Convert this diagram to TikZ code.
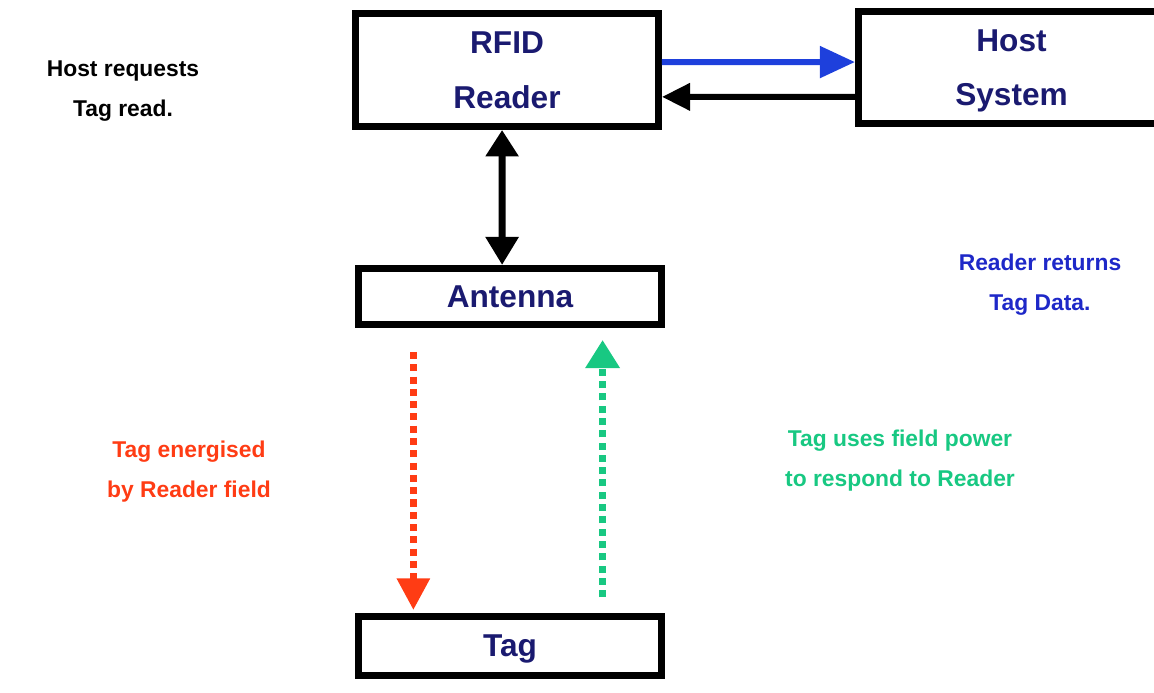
\documentclass[tikz,border=0pt]{standalone}
\usepackage{fontspec}
\setmainfont{Liberation Sans}
\usetikzlibrary{arrows.meta}
\definecolor{boxtext}{RGB}{26,26,112}
\definecolor{hostblue}{RGB}{30,64,220}
\definecolor{noteblue}{RGB}{30,40,200}
\definecolor{fieldred}{RGB}{255,60,20}
\definecolor{replygreen}{RGB}{24,200,130}
\begin{document}
\begin{tikzpicture}[x=0.02cm, y=-0.02cm,
    box/.style={draw, line width=4pt, text=boxtext, align=center, inner sep=0pt,
        text depth=0pt, font=\fontsize{18}{31}\selectfont\bfseries},
    note/.style={align=center, font=\fontsize{13}{22.7}\selectfont\bfseries},
    link/.style={line width=3.4pt},
    radio/.style={line width=4pt, dash pattern=on 4pt off 3pt}]
    \clip (0,0) rectangle (1154,693);

    % boxes
    \node[box, minimum width=6.06cm, minimum height=2.26cm] (reader) at (507,70) {RFID\\Reader};
    \node[box, minimum width=6.12cm, minimum height=2.24cm] (host) at (1011.5,67.5) {Host\\System};
    \node[box, minimum width=6.06cm, minimum height=1.12cm] (antenna) at (510,296.5) {Antenna};
    \node[box, minimum width=6.06cm, minimum height=1.18cm] (tag) at (510,646) {Tag};

    % reader <-> host
    \draw[link, hostblue, -{Triangle[length=20pt, width=17.5pt]}]
        ([yshift=4.5pt]reader.east) -- ([yshift=3.1pt]host.west);
    \draw[link, black, -{Triangle[length=16pt, width=15pt]}]
        ([yshift=-16.7pt]host.west) -- ([yshift=-15.3pt]reader.east);

    % reader <-> antenna
    \draw[line width=4pt, {Triangle[length=15pt, width=18pt]}-{Triangle[length=16pt, width=18pt]}]
        ([xshift=-2.8pt]reader.south) -- ([xshift=-4.5pt]antenna.north);

    % field and reply
    \draw[radio, fieldred, -{Triangle[length=18pt, width=18pt]}, shorten <=13.6pt, shorten >=1.7pt]
        ([xshift=-55pt]antenna.south) -- ([xshift=-55pt]tag.north);
    \draw[radio, replygreen, -{Triangle[length=16pt, width=18.7pt]}, shorten <=9pt, shorten >=6.8pt]
        ([xshift=52.7pt]tag.north) -- ([xshift=52.7pt]antenna.south);

    % notes
    \node[note] (hostnote) at (123,91) {Host requests\\Tag read.};
    \node[note, text=noteblue] (datanote) at (1040,285) {Reader returns\\Tag Data.};
    \node[note, text=fieldred] (fieldnote) at (189,472) {Tag energised\\by Reader field};
    \node[note, text=replygreen] (replynote) at (900,461) {Tag uses field power\\to respond to Reader};
\end{tikzpicture}
\end{document}
